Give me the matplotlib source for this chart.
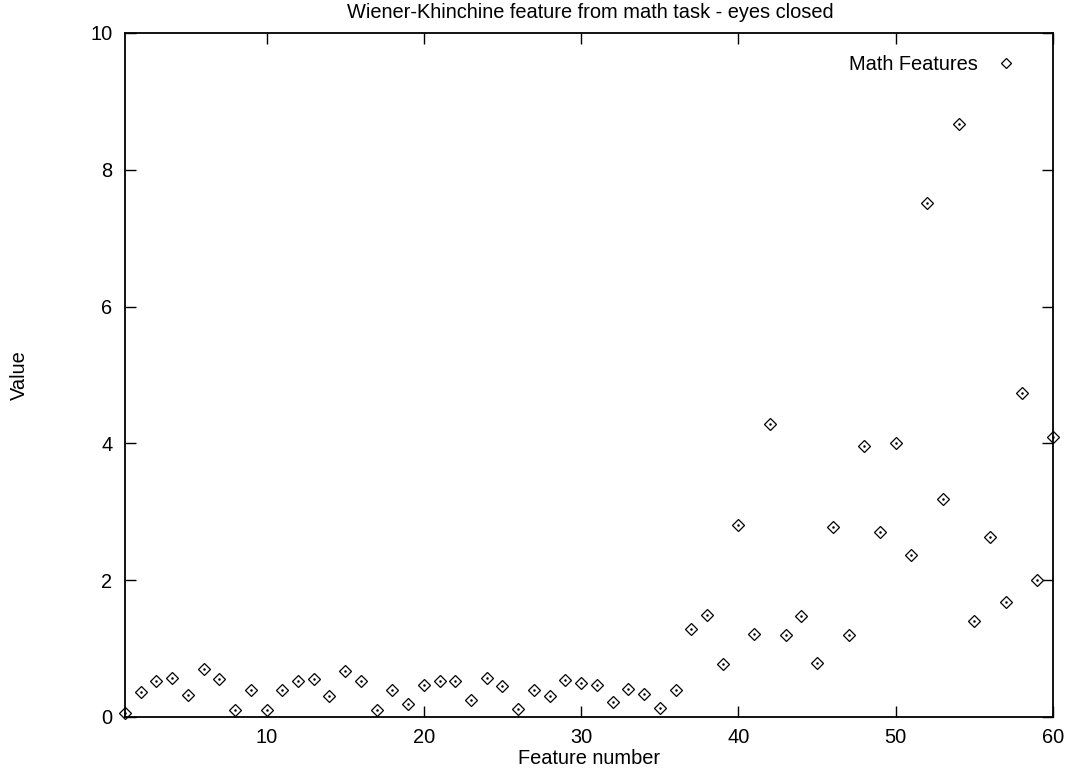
import matplotlib
matplotlib.use("Agg")
import matplotlib.pyplot as plt
import numpy as np

plt.rcParams["font.family"] = ["Liberation Sans", "DejaVu Sans"]

# feature index 1..60 and value
feature_num = list(range(1, 61))
values = [
    0.06, 0.37, 0.53, 0.57, 0.32, 0.70, 0.55, 0.10, 0.39, 0.10,
    0.39, 0.53, 0.55, 0.30, 0.67, 0.53, 0.10, 0.39, 0.19, 0.47,
    0.52, 0.52, 0.25, 0.57, 0.46, 0.11, 0.40, 0.30, 0.54, 0.49,
    0.47, 0.22, 0.41, 0.33, 0.13, 0.40, 1.29, 1.49, 0.77, 2.80,
    1.21, 4.28, 1.20, 1.48, 0.79, 2.78, 1.20, 3.96, 2.70, 4.01,
    2.37, 7.51, 3.19, 8.67, 1.40, 2.63, 1.68, 4.74, 2.00, 4.09,
]
x_ticks = [10, 20, 30, 40, 50, 60]
y_ticks = [0, 2, 4, 6, 8, 10]

FS = 14.4
W, H = 1068, 771

fig = plt.figure(figsize=(W / 100, H / 100), dpi=100)
ax = fig.add_axes([125 / W, 1 - 717 / H, (1053 - 125) / W, (717 - 33) / H])

ax.plot(feature_num, values, linestyle="none", marker="D", markersize=6,
        markerfacecolor="white", markeredgecolor="black", markeredgewidth=0.9,
        label="Math Features", clip_on=False)
ax.plot(feature_num, values, linestyle="none", marker="o", markersize=0.8,
        color="black", clip_on=False)

ax.set_xlim(1, 60)
ax.set_ylim(0, 10)
ax.set_xticks(x_ticks)
ax.set_yticks(y_ticks)
ax.tick_params(direction="in", length=8, width=1, top=True, right=True,
               labelsize=FS)
ax.tick_params(axis="x", pad=8)
ax.tick_params(axis="y", pad=9)
for s in ax.spines.values():
    s.set_linewidth(1.3)

fig.text(590 / W, 1 - 13 / H, "Wiener-Khinchine feature from math task - eyes closed",
         fontsize=FS, ha="center", va="center")
fig.text(589 / W, 1 - 759 / H, "Feature number", fontsize=FS,
         ha="center", va="center")
fig.text(19 / W, 1 - 375 / H, "Value", fontsize=FS, rotation=90,
         ha="center", va="center")

ax.legend(loc="upper right", bbox_to_anchor=(0.971, 0.9795), frameon=False,
          markerfirst=False, fontsize=FS, markerscale=0.8,
          handlelength=1.2, handletextpad=0.8, borderaxespad=0)

fig.savefig("out.png", dpi=100)
